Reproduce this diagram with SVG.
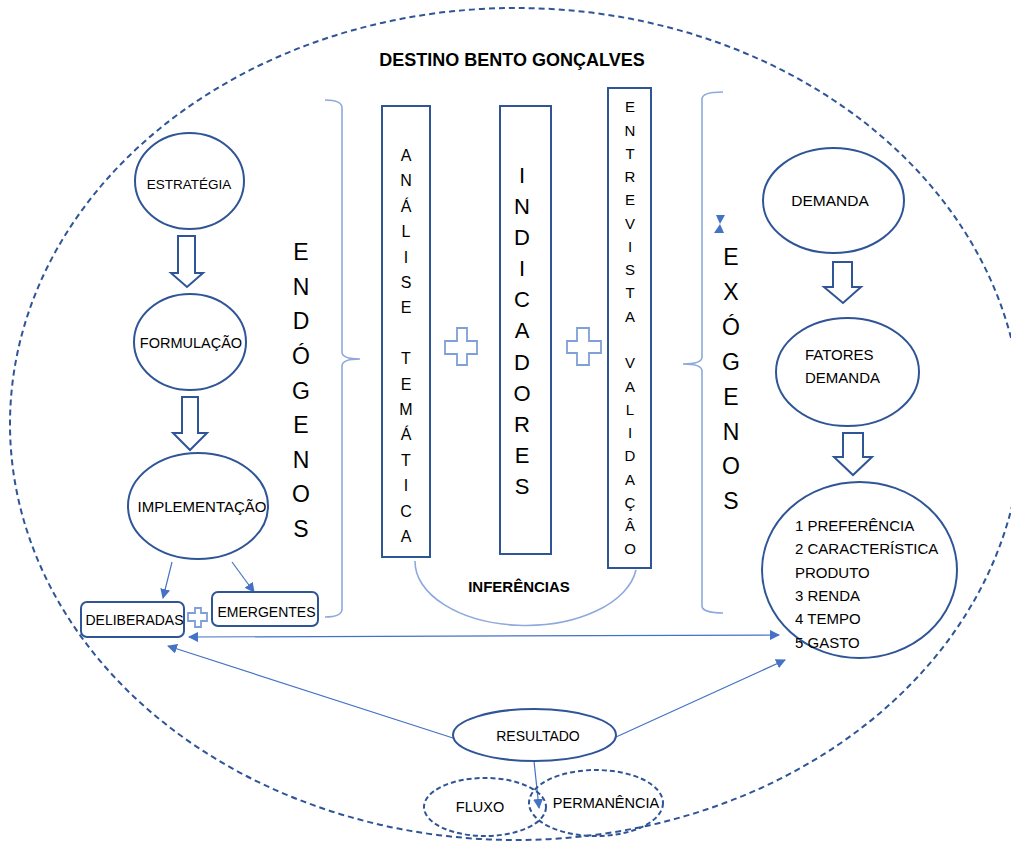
<svg xmlns="http://www.w3.org/2000/svg" width="1011" height="847" viewBox="0 0 1011 847">
<defs>
<style>
text{font-family:"Liberation Sans",Arial,sans-serif;fill:#000}
.node{fill:#fff;stroke:#2F5597;stroke-width:2}
.dash{fill:none;stroke:#2F5597;stroke-width:2;stroke-dasharray:6 4}
.dash2{fill:none;stroke:#2F5597;stroke-width:2;stroke-dasharray:5 3}
.barrow{fill:#fff;stroke:#2F5597;stroke-width:2;stroke-linejoin:miter}
.conn{fill:none;stroke:#4472C4;stroke-width:1.2}
.brace{fill:none;stroke:#8EA9DB;stroke-width:1.6}
.plus{fill:#fff;stroke:#7F9FD8;stroke-width:1.8}
.c{text-anchor:middle}
</style>
<marker id="ah" viewBox="0 0 10 10" refX="9" refY="5" markerWidth="10" markerHeight="10" markerUnits="userSpaceOnUse" orient="auto-start-reverse">
<path d="M0,0 L10,5 L0,10 z" fill="#4472C4"/>
</marker>
</defs>
<rect width="1011" height="847" fill="#fff"/>

<g id="outer">
<ellipse class="dash" cx="516" cy="424" rx="506" ry="416"/>
<text class="c" x="512" y="66" font-size="18" font-weight="bold">DESTINO BENTO GONÇALVES</text>
</g>

<g id="braces">
<path class="brace" d="M325,100 C336,100 342,102 342,108 V352 C342,357 348,359 360,359 C348,359 342,361 342,366 V609 C342,615 336,617 325,617"/>
<path class="brace" d="M723,92 C712,92 702,93 702,99 V357 C702,362 696,364 683,364 C696,364 702,366 702,371 V606 C702,611 712,613 723,613"/>
<path class="brace" d="M415,561 A111 64 0 0 0 636 570"/>
</g>

<g id="connectors">
<line class="conn" x1="172" y1="562" x2="163" y2="598" marker-end="url(#ah)"/>
<line class="conn" x1="232" y1="562" x2="254" y2="592" marker-end="url(#ah)"/>
<line class="conn" x1="189" y1="637" x2="779" y2="635" marker-start="url(#ah)" marker-end="url(#ah)"/>
<line class="conn" x1="453" y1="738" x2="168" y2="646" marker-end="url(#ah)"/>
<line class="conn" x1="616" y1="737" x2="785" y2="660" marker-end="url(#ah)"/>
<line class="conn" x1="534" y1="761" x2="539" y2="808" marker-end="url(#ah)"/>
<path d="M716,215 L725,215 L720,224 z M720,224 L724,233 L714,233 z" fill="#4472C4"/>
<polygon class="barrow" points="178,236 195,236 195,273 203,273 187,287 171,273 178,273"/>
<polygon class="barrow" points="182,397 198,397 198,433 207,433 190,450 173,433 182,433"/>
<polygon class="barrow" points="833,262 852,262 852,287 861,287 843,303 824,287 833,287"/>
<polygon class="barrow" points="843,433 863,433 863,457 872,457 853,475 834,457 843,457"/>
</g>

<g id="estrategia">
<ellipse class="node" cx="189.5" cy="181" rx="54.5" ry="48"/>
<text class="c" x="189" y="189" font-size="13.5">ESTRATÉGIA</text>
</g>
<g id="formulacao">
<ellipse class="node" cx="190" cy="342" rx="56" ry="48"/>
<text class="c" x="191" y="348" font-size="14.5">FORMULAÇÃO</text>
</g>
<g id="implementacao">
<ellipse class="node" cx="198" cy="506" rx="70" ry="53"/>
<text class="c" x="202" y="512" font-size="15">IMPLEMENTAÇÃO</text>
</g>
<g id="deliberadas">
<rect class="node" x="81" y="602" width="103" height="35" rx="6"/>
<text class="c" x="134.5" y="625" font-size="14">DELIBERADAS</text>
</g>
<g id="plus-small">
<polygon class="plus" points="195,608 201,608 201,613 207,613 207,621 201,621 201,627 195,627 195,621 188,621 188,613 195,613"/>
</g>
<g id="emergentes">
<rect class="node" x="212" y="592" width="106" height="34" rx="6"/>
<text class="c" x="266.5" y="617" font-size="14">EMERGENTES</text>
</g>

<g id="endogenos">
<text class="c" font-size="23"><tspan x="301" y="260">E</tspan><tspan x="301" y="295">N</tspan><tspan x="301" y="329">D</tspan><tspan x="301" y="364">Ó</tspan><tspan x="301" y="399">G</tspan><tspan x="301" y="433">E</tspan><tspan x="301" y="468">N</tspan><tspan x="301" y="502">O</tspan><tspan x="301" y="537">S</tspan></text>
</g>

<g id="analise">
<rect class="node" x="382" y="106" width="48" height="451"/>
<text class="c" font-size="16"><tspan x="406" y="161">A</tspan><tspan x="406" y="186">N</tspan><tspan x="406" y="212">Á</tspan><tspan x="406" y="237">L</tspan><tspan x="406" y="263">I</tspan><tspan x="406" y="288">S</tspan><tspan x="406" y="313">E</tspan><tspan x="406" y="364">T</tspan><tspan x="406" y="390">E</tspan><tspan x="406" y="415">M</tspan><tspan x="406" y="440">Á</tspan><tspan x="406" y="466">T</tspan><tspan x="406" y="491">I</tspan><tspan x="406" y="517">C</tspan><tspan x="406" y="542">A</tspan></text>
</g>
<g id="plus-1">
<polygon class="plus" points="457,328 467,328 467,341 477,341 477,354 467,354 467,365 457,365 457,354 445,354 445,341 457,341"/>
</g>
<g id="indicadores">
<rect class="node" x="500" y="106" width="51" height="448"/>
<text class="c" font-size="22"><tspan x="522" y="183">I</tspan><tspan x="522" y="214">N</tspan><tspan x="522" y="245">D</tspan><tspan x="522" y="276">I</tspan><tspan x="522" y="307">C</tspan><tspan x="522" y="338">A</tspan><tspan x="522" y="370">D</tspan><tspan x="522" y="401">O</tspan><tspan x="522" y="432">R</tspan><tspan x="522" y="463">E</tspan><tspan x="522" y="494">S</tspan></text>
</g>
<g id="plus-2">
<polygon class="plus" points="577,328 589,328 589,341 601,341 601,353 589,353 589,365 577,365 577,353 567,353 567,341 577,341"/>
</g>
<g id="entrevista">
<rect class="node" x="608" y="88" width="43" height="480"/>
<text class="c" font-size="15"><tspan x="630" y="112">E</tspan><tspan x="630" y="136">N</tspan><tspan x="630" y="159">T</tspan><tspan x="630" y="182">R</tspan><tspan x="630" y="205">E</tspan><tspan x="630" y="229">V</tspan><tspan x="630" y="252">I</tspan><tspan x="630" y="275">S</tspan><tspan x="630" y="298">T</tspan><tspan x="630" y="322">A</tspan><tspan x="630" y="368">V</tspan><tspan x="630" y="392">A</tspan><tspan x="630" y="415">L</tspan><tspan x="630" y="438">I</tspan><tspan x="630" y="461">D</tspan><tspan x="630" y="485">A</tspan><tspan x="630" y="508">Ç</tspan><tspan x="630" y="531">Â</tspan><tspan x="630" y="554">O</tspan></text>
</g>
<g id="inferencias">
<text class="c" x="519" y="592" font-size="15" font-weight="bold">INFERÊNCIAS</text>
</g>

<g id="exogenos">
<text class="c" font-size="23"><tspan x="731" y="265">E</tspan><tspan x="731" y="300">X</tspan><tspan x="731" y="335">Ó</tspan><tspan x="731" y="370">G</tspan><tspan x="731" y="405">E</tspan><tspan x="731" y="440">N</tspan><tspan x="731" y="474">O</tspan><tspan x="731" y="509">S</tspan></text>
</g>
<g id="demanda">
<ellipse class="node" cx="833.5" cy="200.5" rx="70.5" ry="52.5"/>
<text class="c" x="830" y="206" font-size="15.5">DEMANDA</text>
</g>
<g id="fatores">
<ellipse class="node" cx="847.5" cy="372" rx="71.5" ry="54"/>
<text x="805" y="360" font-size="15">FATORES</text>
<text x="805" y="383" font-size="15">DEMANDA</text>
</g>
<g id="fatores-lista">
<ellipse class="node" cx="859.5" cy="570" rx="97.5" ry="88"/>
<text font-size="15"><tspan x="795" y="531">1 PREFERÊNCIA</tspan><tspan x="795" y="554">2 CARACTERÍSTICA</tspan><tspan x="795" y="578">PRODUTO</tspan><tspan x="795" y="601">3 RENDA</tspan><tspan x="795" y="624">4 TEMPO</tspan><tspan x="795" y="648">5 GASTO</tspan></text>
</g>

<g id="resultado">
<ellipse class="node" cx="534.5" cy="735" rx="81.5" ry="26"/>
<text class="c" x="538" y="741" font-size="14">RESULTADO</text>
</g>
<g id="fluxo">
<ellipse class="dash2" cx="485" cy="807" rx="61" ry="29"/>
<text class="c" x="480" y="812" font-size="14.5">FLUXO</text>
</g>
<g id="permanencia">
<ellipse class="dash2" cx="596" cy="803" rx="67" ry="33"/>
<text class="c" x="606" y="808" font-size="14.5">PERMANÊNCIA</text>
</g>
</svg>
